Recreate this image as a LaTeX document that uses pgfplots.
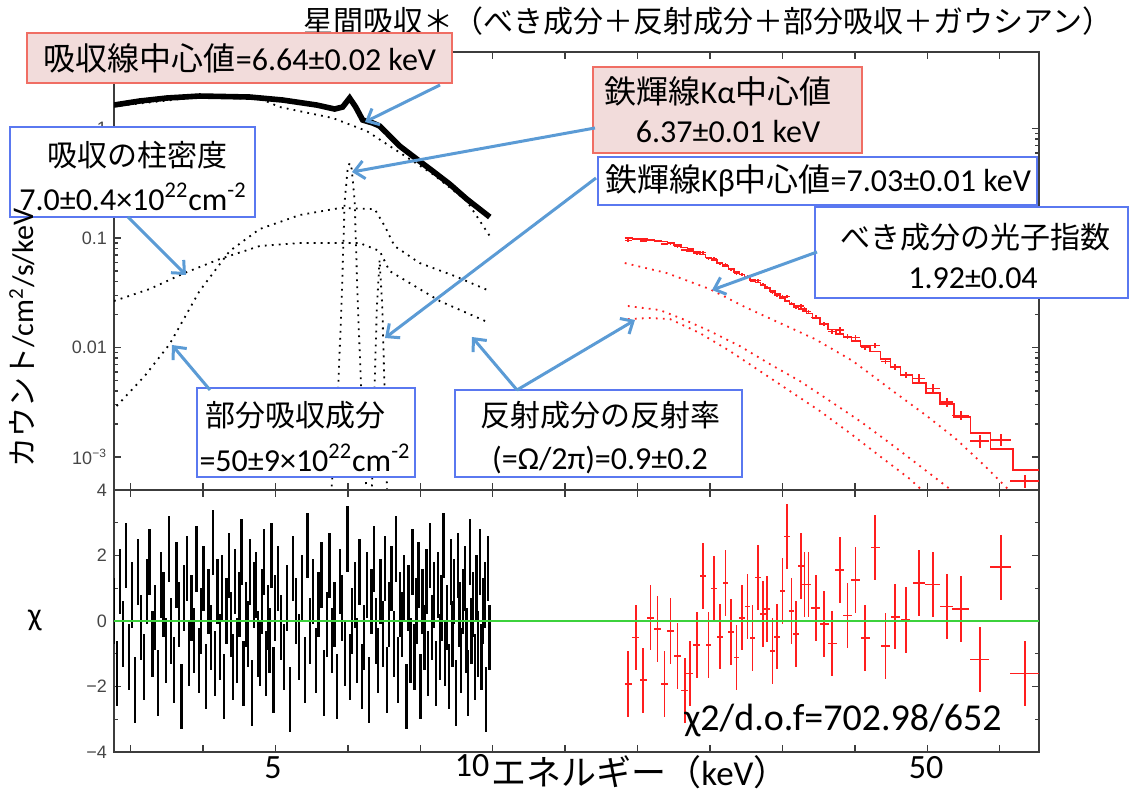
\documentclass[border=0pt]{standalone}
\usepackage{pgfplots}
\pgfplotsset{compat=1.18}
\usepackage{fontspec}
\setmainfont{Carlito}
\newfontfamily\jp{Noto Sans CJK JP}
\newfontfamily\hv{Liberation Sans}
\usetikzlibrary{arrows.meta}
\definecolor{pinkfill}{RGB}{242,220,219}
\definecolor{redline}{RGB}{240,110,100}
\definecolor{boxblue}{RGB}{90,120,240}
\definecolor{arrowblue}{RGB}{91,155,213}
\definecolor{axgray}{RGB}{60,60,60}
\definecolor{tickgray}{RGB}{70,70,70}
\definecolor{chigreen}{RGB}{60,210,60}
\definecolor{datared}{RGB}{255,30,30}
\newcommand\fs[1]{\fontsize{#1}{#1}\selectfont}
\tikzset{mdot/.style={line width=0.9pt, dash pattern=on 0.9pt off 2.6pt}}
\pgfplotsset{nomark/.style={only marks, mark=text, text mark={}}}
\begin{document}
\begin{tikzpicture}
\useasboundingbox (0,0) rectangle (564.5pt,-400.5pt);
% ---------------- top panel
\begin{axis}[scale only axis, width=462.5pt, height=219pt,
  at={(57pt,-245pt)}, anchor=south west,
  xmode=log, xmin=3, xmax=56.8, xticklabels={},
  ymode=log, ymin=5e-4, ymax=5, ytick={0.001,0.01,0.1,1},
  yticklabels={10\textsuperscript{−3},0.01,0.1,1},
  axis line style={axgray, line width=0.9pt},
  tick style={axgray, line width=0.7pt},
  major tick length=3.5pt, minor tick length=2pt,
  yticklabel style={font=\hv\fs{9}, text=tickgray}]
% black model components
\addplot[black, mdot] coordinates {(3.0,1.60)(3.938,1.94)(4.8,1.85)(5.08,1.572)(6.013,1.247)(6.700,0.949)(7.278,0.664)(8.263,0.384)(9.208,0.218)(9.908,0.1043)};
\addplot[black, mdot] coordinates {(5.957,3e-4)(6.109,3.246e-3)(6.187,0.02659)(6.247,0.2178)(6.306,0.4267)(6.346,0.4841)(6.388,0.4267)(6.448,0.2178)(6.510,0.02659)(6.594,3.246e-3)(6.721,3e-4)};
\addplot[black, mdot] coordinates {(6.80,3e-4)(6.86,3.2e-3)(6.92,0.0235)(6.98,0.063)(7.04,0.0235)(7.10,3.2e-3)(7.16,3e-4)};
\addplot[black, mdot] coordinates {(3.025,2.922e-3)(3.307,5.49e-3)(3.581,0.01076)(3.938,0.0328)(4.334,0.0761)(4.767,0.1208)(5.414,0.1622)(6.149,0.1879)(6.872,0.1840)(7.094,0.1287)(7.321,0.0845)(7.930,0.0591)(8.863,0.0450)(9.908,0.0328)};
\addplot[black, mdot] coordinates {(3.0,0.0266)(3.359,0.0342)(3.755,0.0479)(4.198,0.0643)(4.767,0.0845)(5.414,0.0900)(6.553,0.0900)(6.982,0.0761)(7.206,0.0500)(8.450,0.0266)(9.908,0.01674)};
% black data
\addplot[black, line width=2.8pt] coordinates {(3.0,1.639)(3.254,1.783)(3.546,1.899)(3.938,1.981)(4.618,1.940)(5.129,1.821)(5.715,1.639)(6.050,1.507)(6.206,1.572)(6.346,1.899)(6.469,1.572)(6.614,1.196)(6.829,1.123)(6.982,1.054)(7.140,0.910)(7.440,0.692)(7.853,0.527)(8.263,0.409)(8.722,0.311)(9.208,0.227)(9.908,0.1555)};
% red model components
\addplot[datared, mdot] coordinates {(15.22,0.0591)(17.39,0.0479)(19.94,0.0342)(22.30,0.02344)(24.92,0.01674)(27.86,0.01196)(31.43,0.00753)(35.69,0.00401)(39.78,0.002368)(43.48,0.00149)(47.83,0.000828)(51.14,0.000532)(52.62,0.00044)};
\addplot[datared, mdot] coordinates {(15.37,0.02393)(17.01,0.0220)(18.30,0.01821)(19.94,0.01415)(21.94,0.01032)(24.13,0.00707)(26.56,0.00494)(29.22,0.00325)(32.14,0.002132)(35.35,0.00134)(38.90,0.000828)(42.79,0.00051)(44.0,0.0004)};
\addplot[datared, mdot] coordinates {(15.37,0.01821)(16.48,0.0186)(17.57,0.01821)(19.32,0.01356)(21.26,0.00929)(23.38,0.0061)(25.72,0.00401)(28.30,0.00263)(31.13,0.001656)(34.24,0.00102)(37.68,0.00063)(39.53,0.000469)(40.5,0.0004)};
% red folded model (steps)
\addplot[datared, line width=0.7pt, const plot mark mid] table {
E m
15.21 0.1000
15.38 0.1000
15.76 0.0990
16.13 0.0979
16.52 0.0959
16.89 0.0949
17.27 0.0929
17.60 0.0900
18.00 0.0863
18.42 0.0819
18.72 0.0793
19.14 0.0745
19.52 0.0707
19.86 0.0664
20.22 0.0630
20.59 0.0591
20.97 0.0555
21.34 0.0521
21.71 0.0489
22.10 0.0464
22.48 0.0436
22.85 0.0413
23.26 0.0392
23.63 0.0372
23.93 0.0349
24.35 0.0328
24.70 0.0308
25.13 0.0283
25.50 0.0266
25.86 0.0250
26.24 0.0239
26.64 0.0225
26.95 0.0215
27.30 0.0204
27.94 0.0186
28.69 0.0164
29.43 0.0146
30.16 0.0133
30.90 0.0125
31.70 0.01147
32.68 0.01032
33.74 0.00920
34.87 0.00785
35.95 0.00664
37.20 0.00561
38.81 0.00474
40.53 0.00384
42.38 0.00305
44.31 0.00232
47.07 0.001656
50.31 0.001183
54.32 0.000760
56.8 0.000760
};
% red data
\addplot[datared, nomark, error bars/.cd, x dir=both, x explicit, y dir=both, y explicit relative, error mark=none, error bar style={line width=0.75pt}] table[x=E, y=d, x error=ex, y error=er] {
E d ex er
15.38 0.0952 0.17 0.025
15.76 0.0977 0.175 0.025
16.13 0.0935 0.18 0.025
16.52 0.0961 0.183 0.025
16.89 0.0943 0.187 0.025
17.27 0.0884 0.19 0.025
17.60 0.0893 0.195 0.025
18.00 0.0840 0.2 0.025
18.42 0.0776 0.204 0.025
18.72 0.0761 0.208 0.025
19.14 0.0729 0.212 0.03
19.52 0.0736 0.174 0.03
19.86 0.0649 0.177 0.03
20.22 0.0649 0.18 0.03
20.59 0.0583 0.183 0.03
20.97 0.0574 0.187 0.03
21.34 0.0516 0.19 0.03
21.71 0.0472 0.193 0.03
22.10 0.0465 0.197 0.03
22.48 0.0442 0.2 0.03
22.85 0.0406 0.203 0.03
23.26 0.0408 0.207 0.03
23.63 0.0374 0.21 0.03
23.93 0.0353 0.213 0.03
24.35 0.0319 0.217 0.03
24.70 0.0302 0.22 0.04
25.13 0.0293 0.224 0.04
25.50 0.0293 0.227 0.04
25.86 0.0253 0.23 0.04
26.24 0.0235 0.234 0.04
26.64 0.0240 0.237 0.04
26.95 0.0224 0.24 0.04
27.30 0.0213 0.243 0.04
27.94 0.0189 0.40 0.04
28.69 0.0163 0.41 0.04
29.43 0.0140 0.42 0.06
30.16 0.0145 0.43 0.06
30.90 0.0126 0.44 0.06
31.70 0.01233 0.45 0.06
32.68 0.0100 0.47 0.06
33.74 0.01043 0.48 0.06
34.87 0.00749 0.50 0.06
35.95 0.00669 0.51 0.06
37.20 0.00562 0.53 0.06
38.81 0.00523 0.74 0.09
40.53 0.00423 0.97 0.09
42.38 0.00317 0.88 0.09
44.31 0.00240 1.20 0.09
47.07 0.001404 1.42 0.13
50.31 0.001435 1.68 0.13
54.32 0.000602 2.50 0.13
};
\end{axis}
% ---------------- bottom panel
\begin{axis}[scale only axis, width=462.5pt, height=131pt,
  at={(57pt,-245pt)}, anchor=north west,
  xmode=log, xmin=3, xmax=56.8, xticklabels={},
  ymin=-4, ymax=4, ytick={-4,-2,0,2,4}, minor ytick={-3,-1,1,3},
  yticklabels={−4,−2,0,2,4},
  axis line style={axgray, line width=0.9pt},
  tick style={axgray, line width=0.7pt},
  major tick length=3.5pt, minor tick length=2pt,
  yticklabel style={font=\hv\fs{9}, text=tickgray}]
\addplot[black, nomark, error bars/.cd, y dir=both, y fixed=1, error mark=none, error bar style={line width=1.15pt}] table {
3.00 0.3
3.03 -1.6
3.06 1.2
3.09 -0.4
3.12 2.0
3.15 -1.1
3.18 0.8
3.21 -2.1
3.24 1.5
3.27 -0.2
3.30 -1.4
3.33 0.9
3.36 1.8
3.39 -0.7
3.42 0.1
3.45 -1.9
3.48 1.1
3.51 0.5
3.54 -0.9
3.57 2.2
3.60 -0.3
3.63 -1.5
3.66 1.4
3.69 0.2
3.72 -2.3
3.75 0.7
3.78 1.6
3.81 -1.0
3.84 0.4
3.87 -0.6
3.90 1.9
3.93 -1.2
3.96 0.0
3.99 1.3
4.02 -1.7
4.05 0.6
4.08 -0.5
4.11 2.4
4.14 -1.3
4.17 0.9
4.20 -0.8
4.23 1.0
4.26 -2.0
4.29 0.3
4.32 1.7
4.35 -0.1
4.38 -1.4
4.41 1.2
4.44 -0.9
4.47 0.5
4.50 2.1
4.53 -1.6
4.56 0.2
4.59 -0.4
4.62 1.5
4.65 -2.2
4.68 0.8
4.71 1.1
4.74 -0.7
4.77 -1.0
4.80 0.6
4.83 1.8
4.86 -1.3
4.89 0.1
4.92 -0.6
4.95 2.0
4.98 -1.8
5.00 0.4
5.05 1.3
5.10 -0.2
5.15 -1.1
5.20 0.7
5.25 -2.4
5.30 1.6
5.35 0.3
5.40 -0.8
5.45 1.0
5.50 -1.5
5.55 2.3
5.60 -0.3
5.65 0.9
5.70 -1.2
5.75 0.5
5.80 1.4
5.85 -1.9
5.90 -0.1
5.95 1.7
6.00 -0.6
6.05 0.2
6.10 -2.0
6.15 1.2
6.20 0.4
6.25 -1.0
6.30 2.5
6.35 -1.4
6.40 0.0
6.45 0.8
6.50 -0.9
6.55 1.5
6.60 -1.7
6.65 -0.5
6.70 1.1
6.75 -2.1
6.80 0.6
6.85 1.9
6.90 -0.3
6.95 -1.2
7.00 0.9
7.05 -0.4
7.10 1.6
7.15 -1.8
7.20 0.2
7.25 1.3
7.30 -0.7
7.35 2.2
7.40 -1.5
7.45 0.5
7.50 -0.1
7.55 1.0
7.60 -2.3
7.65 0.7
7.70 -0.9
7.75 1.8
7.80 -1.1
7.85 0.3
7.90 1.4
7.95 -2.0
8.00 0.6
8.05 -0.5
8.10 1.2
8.15 -1.3
8.20 2.0
8.25 -0.2
8.30 0.8
8.35 -1.6
8.40 1.1
8.45 -0.8
8.50 0.4
8.55 2.3
8.60 -1.0
8.65 0.1
8.70 -1.7
8.75 1.5
8.80 -0.4
8.85 0.9
8.90 -2.2
8.95 1.7
9.00 0.2
9.05 -1.2
9.10 0.6
9.15 1.3
9.20 -0.6
9.25 -1.9
9.30 2.1
9.35 -0.3
9.40 0.5
9.45 -1.4
9.50 1.0
9.55 -0.7
9.60 1.8
9.65 -1.1
9.70 0.3
9.75 0.8
9.80 -2.4
9.85 1.6
9.90 -0.5
};
\addplot[datared, nomark, error bars/.cd, x dir=both, x explicit, y dir=both, y fixed=1, error mark=none, error bar style={line width=0.8pt}] table[x=E, y=c, x error=ex] {
E c ex
15.38 -1.93 0.17
15.76 -0.51 0.175
16.13 -1.81 0.18
16.52 0.10 0.183
16.89 -0.25 0.187
17.27 -1.93 0.19
17.60 -0.30 0.195
18.00 -1.07 0.2
18.42 -2.12 0.204
18.72 -1.60 0.208
19.14 -0.73 0.212
19.52 1.38 0.174
19.86 -0.73 0.177
20.22 0.99 0.18
20.59 -0.48 0.183
20.97 1.16 0.187
21.34 -0.34 0.19
21.71 -1.12 0.193
22.10 0.10 0.197
22.48 0.44 0.2
22.85 -0.52 0.203
23.26 1.33 0.207
23.63 0.21 0.21
23.93 0.36 0.213
24.35 -0.91 0.217
24.70 -0.48 0.22
25.13 0.91 0.224
25.50 2.58 0.227
25.86 0.31 0.23
26.24 -0.40 0.234
26.64 1.68 0.237
26.95 1.11 0.24
27.30 1.11 0.243
27.94 0.39 0.40
28.69 -0.09 0.41
29.43 -0.69 0.42
30.16 1.55 0.43
30.90 0.17 0.44
31.70 1.25 0.45
32.68 -0.52 0.47
33.74 2.24 0.48
34.87 -0.76 0.50
35.95 0.13 0.51
37.20 0.03 0.53
38.81 1.16 0.74
40.53 1.12 0.97
42.38 0.44 0.88
44.31 0.37 1.20
47.07 -1.17 1.42
50.31 1.64 1.68
54.32 -1.60 2.50
};
\addplot[chigreen, line width=0.7pt] coordinates {(3,0)(56.8,0)};
\end{axis}
% ---------------- annotations (pixel coordinates)
\begin{scope}[x=0.5pt, y=-0.5pt]
\tikzset{bb/.style={boxblue, fill=white, line width=0.7pt},
         rb/.style={redline, fill=pinkfill, line width=0.9pt},
         ar/.style={arrowblue, line width=1.5pt, -{Straight Barb[length=5pt,width=9pt]}}}
\node[font=\jp\fs{15}] at (708,21) {星間吸収＊（べき成分＋反射成分＋部分吸収＋ガウシアン）};
\draw[rb] (27,33) rectangle (452,83);
\node[font=\fs{16}] at (240,58) {{\jp 吸収線中心値}=6.64±0.02 keV};
\draw[rb] (593,67) rectangle (862,153);
\node[font=\fs{16}] at (718,91) {{\jp 鉄輝線}Kα{\jp 中心値}};
\node[font=\fs{16}] at (728,132) {6.37±0.01 keV};
\draw[bb] (10,127) rectangle (255,217);
\node[font=\jp\fs{15}] at (137,155) {吸収の柱密度};
\node[font=\fs{16}] at (133,197) {7.0±0.4×10\textsuperscript{22}cm\textsuperscript{-2}};
\draw[bb] (598,157) rectangle (1037,205);
\node[font=\fs{16}] at (818,181) {{\jp 鉄輝線}Kβ{\jp 中心値}=7.03±0.01 keV};
\draw[bb] (815,207) rectangle (1128,298);
\node[font=\jp\fs{15}] at (975,237) {べき成分の光子指数};
\node[font=\fs{16}] at (973,278) {1.92±0.04};
\draw[bb] (197,388) rectangle (415,477);
\node[font=\jp\fs{15}] at (295,415) {部分吸収成分};
\node[font=\fs{16}] at (305,458) {=50±9×10\textsuperscript{22}cm\textsuperscript{-2}};
\draw[bb] (455,390) rectangle (742,477);
\node[font=\jp\fs{15}] at (600,415) {反射成分の反射率};
\node[font=\fs{16}] at (600,460) {(=Ω/2π)=0.9±0.2};
\draw[ar] (440,85) -- (365,122);
\draw[ar] (595,128) -- (352,172);
\draw[ar] (128,217) -- (186,275);
\draw[ar] (596,178) -- (385,338);
\draw[ar] (817,252) -- (712,290);
\draw[ar] (210,390) -- (172,345);
\draw[ar] (517,390) -- (472,337);
\draw[ar] (517,390) -- (635,320);
\node[font=\fs{19}] at (843,720) {χ2/d.o.f=702.98/652};
\node[font=\fs{17}] at (273,768) {5};
\node[font=\fs{17}] at (472,766) {10};
\node[font=\fs{17}] at (926,768) {50};
\node[font=\fs{17.5}] at (640,772) {{\jp エネルギー（}keV{\jp ）}};
\node[font=\fs{15}, rotate=90] at (22,338) {{\jp カウント}/cm\textsuperscript{2}/s/keV};
\node[font=\fs{16}] at (35,620) {χ};
\end{scope}
\end{tikzpicture}
\end{document}
